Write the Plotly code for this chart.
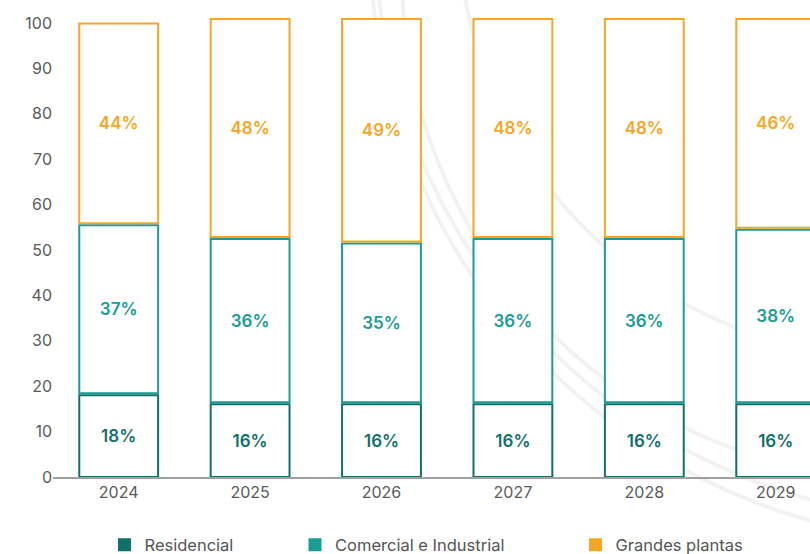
import plotly.graph_objects as go

# Share of installed capacity by segment, per year
years = ["2024", "2025", "2026", "2027", "2028", "2029"]
residencial = [18, 16, 16, 16, 16, 16]
comercial = [37, 36, 35, 36, 36, 38]
grandes = [44, 48, 49, 48, 48, 46]

series_names = ["Residencial", "Comercial e Industrial", "Grandes plantas"]
series_colors = ["#12706A", "#1B9C95", "#F6A623"]
y_ticks = [0, 10, 20, 30, 40, 50, 60, 70, 80, 90, 100]

FONT = "Inter"
GAP = 0.45  # small visual gap between stacked segments

# Figure geometry (pixels)
W, H = 810, 554
ML, MR, MT, MB = 53, 0, 14, 77
PW, PH = W - ML - MR, H - MT - MB


def px_to_paper(px, py):
    return (px - ML) / PW, (H - MB - py) / PH


fig = go.Figure()

# Faint decorative arcs in the background
arcs = [(973, -60, 603), (965, -70, 590), (906, -25, 504), (896, -80, 438)]
for cx, cy, r in arcs:
    x0, y1 = px_to_paper(cx - r, cy - r)
    x1, y0 = px_to_paper(cx + r, cy + r)
    fig.add_shape(type="circle", xref="paper", yref="paper",
                  x0=x0, x1=x1, y0=y0, y1=y1,
                  line=dict(color="#F2F2F2", width=4), layer="below")

# Stacked outlined segments: each base is the running total of the segments below
all_series = [residencial, comercial, grandes]
running = [0.0] * len(years)
for k, (name, vals, col) in enumerate(zip(series_names, all_series, series_colors)):
    bases = [running[i] + (GAP if k > 0 else 0) for i in range(len(years))]
    fig.add_trace(go.Bar(
        x=years, y=vals, base=bases, name=name, showlegend=False,
        marker=dict(color="white", line=dict(color=col, width=2)),
        text=[f"{v}%" for v in vals], textposition="inside",
        insidetextanchor="middle", textangle=0,
        textfont=dict(family=FONT, size=17, color=col, weight=600),
        hoverinfo="skip",
    ))
    running = [bases[i] + vals[i] for i in range(len(years))]

# Legend entries with filled square swatches, one legend per entry
legend_keys = ["legend", "legend2", "legend3"]
legend_px = [104.5, 295, 575.5]
for name, col, key in zip(series_names, series_colors, legend_keys):
    fig.add_trace(go.Scatter(
        x=[None], y=[None], mode="markers", name=name, legend=key,
        marker=dict(symbol="square", size=13, color=col),
    ))

legend_style = dict(orientation="h", yanchor="middle", xanchor="left",
                    font=dict(family=FONT, size=16.5, color="#555555"),
                    bgcolor="rgba(0,0,0,0)", itemwidth=30)
leg_y = px_to_paper(0, 545)[1]
fig.update_layout(
    legend=dict(x=px_to_paper(legend_px[0], 0)[0], y=leg_y, **legend_style),
    legend2=dict(x=px_to_paper(legend_px[1], 0)[0], y=leg_y, **legend_style),
    legend3=dict(x=px_to_paper(legend_px[2], 0)[0], y=leg_y, **legend_style),
)

fig.update_layout(
    width=W, height=H,
    margin=dict(l=ML, r=MR, t=MT, b=MB, pad=0, autoexpand=False),
    paper_bgcolor="white", plot_bgcolor="rgba(0,0,0,0)",
    barmode="overlay", bargap=0.4,
    font=dict(family=FONT, color="#5A5A5A"),
    xaxis=dict(
        type="category", range=[-0.5, -0.5 + PW / 131.4],
        showline=True, linecolor="#A0A0A0", linewidth=1.5,
        showgrid=False, ticks="", tickfont=dict(family=FONT, size=16, color="#5A5A5A"),
        fixedrange=True,
    ),
    yaxis=dict(
        range=[0, 102], tickvals=y_ticks, showgrid=False, zeroline=False,
        showline=False, ticks="", tickfont=dict(family=FONT, size=16, color="#5A5A5A"),
        fixedrange=True,
    ),
)

fig.write_html("out.html")
